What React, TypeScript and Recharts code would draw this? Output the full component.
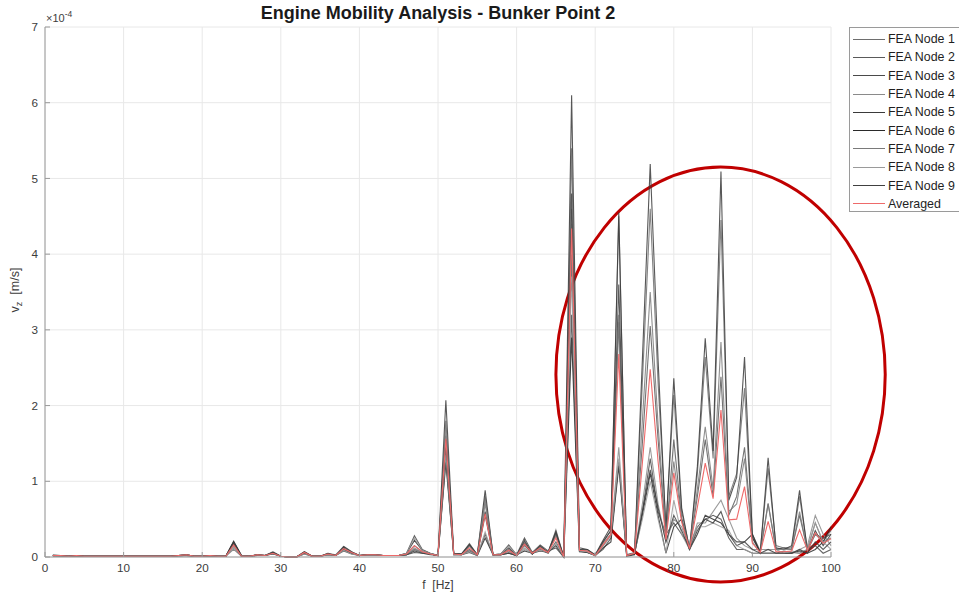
import React from 'react';
import { LineChart, Line, XAxis, YAxis, CartesianGrid, ReferenceArea } from 'recharts';

// Frequency grid (Hz), one sample per hertz
const FREQ_HZ: number[] = Array.from({ length: 100 }, (_, i) => i + 1);

// Vertical mobility v_z per FEA node, in units of 1e-4 m/s
const NODE_1 = [
  0.02, 0.02, 0.01, 0.02, 0.01, 0.01, 0.01, 0.01, 0.01, 0.01,
  0.01, 0.01, 0.01, 0.01, 0.01, 0.01, 0.02, 0.03, 0.01, 0.01,
  0.02, 0.01, 0.01, 0.18, 0.01, 0.01, 0.03, 0.02, 0.06, 0.01,
  0.00, 0.00, 0.06, 0.01, 0.01, 0.04, 0.02, 0.13, 0.06, 0.02,
  0.03, 0.03, 0.02, 0.02, 0.02, 0.03, 0.10, 0.06, 0.04, 0.02,
  1.80, 0.04, 0.03, 0.15, 0.03, 0.80, 0.03, 0.03, 0.08, 0.02,
  0.20, 0.04, 0.12, 0.06, 0.30, 0.00, 5.40, 0.10, 0.08, 0.02,
  0.20, 0.35, 4.50, 0.02, 0.05, 2.30, 4.60, 2.30, 0.40, 2.14,
  0.60, 0.12, 1.10, 2.64, 1.30, 4.45, 0.80, 1.10, 2.23, 0.30,
  0.08, 1.17, 0.15, 0.12, 0.12, 0.80, 0.10, 0.45, 0.20, 0.35,
];
const NODE_2 = [
  0.03, 0.02, 0.01, 0.02, 0.01, 0.01, 0.01, 0.01, 0.01, 0.01,
  0.01, 0.01, 0.01, 0.01, 0.01, 0.01, 0.02, 0.02, 0.01, 0.01,
  0.02, 0.01, 0.01, 0.15, 0.01, 0.01, 0.03, 0.02, 0.05, 0.01,
  0.00, 0.00, 0.05, 0.01, 0.01, 0.04, 0.02, 0.10, 0.05, 0.02,
  0.03, 0.03, 0.02, 0.02, 0.02, 0.04, 0.15, 0.07, 0.04, 0.02,
  1.45, 0.04, 0.04, 0.10, 0.03, 0.55, 0.03, 0.03, 0.10, 0.03,
  0.15, 0.05, 0.10, 0.05, 0.20, 0.00, 4.00, 0.08, 0.07, 0.03,
  0.15, 0.30, 3.10, 0.03, 0.06, 1.50, 3.05, 1.55, 0.25, 1.55,
  0.50, 0.10, 0.80, 1.55, 0.80, 2.38, 0.55, 0.80, 1.45, 0.25,
  0.07, 0.71, 0.10, 0.12, 0.10, 0.55, 0.10, 0.30, 0.25, 0.30,
];
const NODE_3 = [
  0.02, 0.01, 0.01, 0.01, 0.01, 0.01, 0.01, 0.01, 0.01, 0.01,
  0.01, 0.01, 0.01, 0.01, 0.01, 0.01, 0.02, 0.02, 0.01, 0.01,
  0.01, 0.01, 0.01, 0.20, 0.02, 0.01, 0.02, 0.02, 0.05, 0.01,
  0.00, 0.00, 0.04, 0.01, 0.01, 0.03, 0.02, 0.08, 0.04, 0.02,
  0.03, 0.02, 0.02, 0.02, 0.02, 0.05, 0.28, 0.10, 0.05, 0.02,
  1.30, 0.03, 0.03, 0.08, 0.02, 0.30, 0.03, 0.04, 0.16, 0.03,
  0.25, 0.06, 0.16, 0.08, 0.12, 0.00, 3.20, 0.08, 0.06, 0.02,
  0.10, 0.25, 1.25, 0.03, 0.05, 0.60, 1.30, 0.60, 0.30, 0.45,
  0.30, 0.15, 0.40, 0.50, 0.55, 0.50, 0.25, 0.10, 0.10, 0.05,
  0.05, 0.05, 0.05, 0.08, 0.06, 0.05, 0.10, 0.15, 0.05, 0.10,
];
const NODE_4 = [
  0.02, 0.02, 0.01, 0.02, 0.01, 0.01, 0.01, 0.01, 0.01, 0.01,
  0.01, 0.01, 0.01, 0.01, 0.01, 0.01, 0.02, 0.03, 0.01, 0.01,
  0.02, 0.01, 0.01, 0.12, 0.01, 0.01, 0.03, 0.02, 0.07, 0.01,
  0.00, 0.00, 0.07, 0.01, 0.01, 0.05, 0.03, 0.14, 0.07, 0.02,
  0.03, 0.03, 0.02, 0.02, 0.02, 0.03, 0.12, 0.06, 0.04, 0.02,
  1.70, 0.05, 0.04, 0.18, 0.03, 0.70, 0.03, 0.03, 0.06, 0.02,
  0.12, 0.04, 0.12, 0.06, 0.36, 0.00, 4.60, 0.10, 0.08, 0.03,
  0.15, 0.30, 1.45, 0.02, 0.05, 0.70, 1.45, 0.70, 0.20, 0.50,
  0.40, 0.12, 0.45, 0.45, 0.60, 0.75, 0.50, 0.25, 0.15, 0.10,
  0.10, 0.10, 0.10, 0.05, 0.05, 0.10, 0.15, 0.55, 0.30, 0.15,
];
const NODE_5 = [
  0.02, 0.02, 0.01, 0.02, 0.01, 0.01, 0.01, 0.01, 0.01, 0.01,
  0.01, 0.01, 0.01, 0.01, 0.01, 0.01, 0.02, 0.03, 0.01, 0.01,
  0.02, 0.01, 0.01, 0.17, 0.01, 0.01, 0.03, 0.02, 0.06, 0.01,
  0.00, 0.00, 0.06, 0.01, 0.01, 0.04, 0.02, 0.12, 0.06, 0.02,
  0.03, 0.03, 0.02, 0.02, 0.02, 0.03, 0.08, 0.05, 0.04, 0.02,
  2.07, 0.05, 0.04, 0.16, 0.03, 0.88, 0.03, 0.03, 0.05, 0.02,
  0.18, 0.04, 0.14, 0.06, 0.34, 0.00, 6.10, 0.12, 0.10, 0.03,
  0.22, 0.40, 4.55, 0.01, 0.03, 2.60, 5.19, 2.60, 0.35, 2.36,
  0.65, 0.10, 1.20, 2.89, 1.40, 5.09, 0.75, 1.05, 2.64, 0.26,
  0.06, 1.31, 0.12, 0.10, 0.15, 0.88, 0.08, 0.35, 0.15, 0.30,
];
const NODE_6 = [
  0.01, 0.01, 0.01, 0.01, 0.01, 0.01, 0.01, 0.01, 0.01, 0.01,
  0.01, 0.01, 0.01, 0.01, 0.01, 0.01, 0.01, 0.02, 0.01, 0.01,
  0.01, 0.01, 0.01, 0.21, 0.02, 0.01, 0.02, 0.02, 0.04, 0.01,
  0.00, 0.00, 0.05, 0.01, 0.01, 0.03, 0.02, 0.10, 0.05, 0.02,
  0.02, 0.02, 0.02, 0.02, 0.02, 0.05, 0.22, 0.09, 0.05, 0.02,
  1.25, 0.03, 0.03, 0.06, 0.02, 0.25, 0.03, 0.04, 0.12, 0.03,
  0.08, 0.05, 0.08, 0.06, 0.15, 0.00, 2.90, 0.07, 0.06, 0.02,
  0.12, 0.20, 1.20, 0.02, 0.04, 0.55, 1.10, 0.55, 0.05, 0.40,
  0.50, 0.10, 0.30, 0.55, 0.50, 0.45, 0.30, 0.15, 0.20, 0.30,
  0.05, 0.05, 0.05, 0.05, 0.05, 0.08, 0.05, 0.10, 0.20, 0.40,
];
const NODE_7 = [
  0.02, 0.02, 0.01, 0.02, 0.01, 0.01, 0.01, 0.01, 0.01, 0.01,
  0.01, 0.01, 0.01, 0.01, 0.01, 0.01, 0.02, 0.03, 0.01, 0.01,
  0.02, 0.01, 0.01, 0.10, 0.01, 0.01, 0.03, 0.02, 0.05, 0.01,
  0.00, 0.00, 0.06, 0.01, 0.01, 0.04, 0.02, 0.13, 0.06, 0.02,
  0.03, 0.03, 0.02, 0.02, 0.02, 0.03, 0.10, 0.06, 0.04, 0.02,
  1.60, 0.04, 0.03, 0.14, 0.03, 0.75, 0.03, 0.03, 0.06, 0.02,
  0.20, 0.04, 0.13, 0.06, 0.28, 0.00, 4.40, 0.09, 0.07, 0.02,
  0.18, 0.30, 3.20, 0.02, 0.05, 1.80, 3.50, 1.75, 0.30, 1.26,
  0.50, 0.12, 0.90, 1.72, 0.90, 2.84, 0.60, 0.70, 1.30, 0.20,
  0.05, 0.70, 0.10, 0.10, 0.10, 0.60, 0.08, 0.30, 0.20, 0.25,
];
const NODE_8 = [
  0.01, 0.01, 0.01, 0.01, 0.01, 0.01, 0.01, 0.01, 0.01, 0.01,
  0.01, 0.01, 0.01, 0.01, 0.01, 0.01, 0.01, 0.02, 0.01, 0.01,
  0.01, 0.01, 0.01, 0.14, 0.02, 0.01, 0.02, 0.02, 0.05, 0.01,
  0.00, 0.00, 0.04, 0.01, 0.01, 0.03, 0.02, 0.09, 0.04, 0.02,
  0.02, 0.02, 0.02, 0.02, 0.02, 0.05, 0.25, 0.09, 0.05, 0.02,
  1.35, 0.03, 0.03, 0.07, 0.02, 0.33, 0.03, 0.04, 0.14, 0.03,
  0.10, 0.05, 0.09, 0.06, 0.18, 0.00, 3.70, 0.08, 0.07, 0.02,
  0.14, 0.28, 1.30, 0.02, 0.05, 0.50, 1.00, 0.50, 0.05, 0.75,
  0.30, 0.10, 0.40, 0.40, 0.45, 0.40, 0.35, 0.15, 0.10, 0.05,
  0.05, 0.05, 0.05, 0.05, 0.08, 0.05, 0.10, 0.45, 0.20, 0.10,
];
const NODE_9 = [
  0.02, 0.02, 0.01, 0.02, 0.01, 0.01, 0.01, 0.01, 0.01, 0.01,
  0.01, 0.01, 0.01, 0.01, 0.01, 0.01, 0.02, 0.03, 0.01, 0.01,
  0.02, 0.01, 0.01, 0.19, 0.01, 0.01, 0.03, 0.02, 0.06, 0.01,
  0.00, 0.00, 0.07, 0.01, 0.01, 0.05, 0.02, 0.14, 0.07, 0.02,
  0.03, 0.03, 0.02, 0.02, 0.02, 0.03, 0.06, 0.05, 0.03, 0.02,
  1.55, 0.05, 0.04, 0.17, 0.03, 0.60, 0.03, 0.03, 0.05, 0.02,
  0.22, 0.04, 0.15, 0.06, 0.32, 0.00, 4.80, 0.10, 0.10, 0.02,
  0.20, 0.35, 3.60, 0.02, 0.04, 0.60, 1.15, 0.65, 0.20, 0.55,
  0.35, 0.10, 0.35, 0.50, 0.45, 0.60, 0.30, 0.20, 0.20, 0.10,
  0.05, 0.10, 0.05, 0.05, 0.05, 0.10, 0.05, 0.20, 0.10, 0.20,
];
const AVERAGED = [
  0.02, 0.02, 0.01, 0.02, 0.01, 0.01, 0.01, 0.01, 0.01, 0.01,
  0.01, 0.01, 0.01, 0.01, 0.01, 0.01, 0.02, 0.03, 0.01, 0.01,
  0.02, 0.01, 0.01, 0.16, 0.01, 0.01, 0.03, 0.02, 0.05, 0.01,
  0.00, 0.00, 0.06, 0.01, 0.01, 0.04, 0.02, 0.11, 0.06, 0.02,
  0.03, 0.03, 0.02, 0.02, 0.02, 0.04, 0.15, 0.07, 0.04, 0.02,
  1.56, 0.04, 0.03, 0.12, 0.03, 0.57, 0.03, 0.03, 0.09, 0.02,
  0.17, 0.05, 0.12, 0.06, 0.25, 0.00, 4.34, 0.09, 0.08, 0.02,
  0.16, 0.30, 2.68, 0.02, 0.05, 1.24, 2.48, 1.26, 0.23, 1.11,
  0.46, 0.11, 0.66, 1.24, 0.77, 1.94, 0.49, 0.50, 0.93, 0.18,
  0.06, 0.47, 0.07, 0.07, 0.08, 0.36, 0.09, 0.32, 0.18, 0.24,
];

const CHART_TITLE = 'Engine Mobility Analysis - Bunker Point 2';
const NODE_NAMES = [
  'FEA Node 1', 'FEA Node 2', 'FEA Node 3', 'FEA Node 4', 'FEA Node 5',
  'FEA Node 6', 'FEA Node 7', 'FEA Node 8', 'FEA Node 9',
];
const NODE_VALUES = [NODE_1, NODE_2, NODE_3, NODE_4, NODE_5, NODE_6, NODE_7, NODE_8, NODE_9];
const NODE_COLORS = [
  '#6e6e6e', '#5a5a5a', '#4a4a4a', '#8a8a8a', '#3a3a3a',
  '#2a2a2a', '#7a7a7a', '#9a9a9a', '#404040',
];
const AVERAGED_NAME = 'Averaged';
const AVERAGED_COLOR = '#ee6a6a';

const X_TICKS = [0, 10, 20, 30, 40, 50, 60, 70, 80, 90, 100];
const Y_TICKS = [0, 1, 2, 3, 4, 5, 6, 7];

// Highlighted resonance band (Hz and 1e-4 m/s bounds of the ring)
const HIGHLIGHT = { f1: 65.0, f2: 106.9, v1: -0.33, v2: 5.15 };

const FONT = '"Liberation Sans", Arial, Helvetica, sans-serif';
const AXIS_COLOR = '#9a9a9a';
const TEXT_COLOR = '#3c3c3c';

const SERIES = NODE_NAMES.map((name, i) => ({
  key: `node${i + 1}`,
  name,
  values: NODE_VALUES[i],
  color: NODE_COLORS[i],
}));

const data = FREQ_HZ.map((f, i) => {
  const row: Record<string, number> = { f };
  SERIES.forEach((s) => {
    row[s.key] = s.values[i];
  });
  row.avg = AVERAGED[i];
  return row;
});

const LEGEND_ITEMS = [
  ...SERIES.map((s) => ({ name: s.name, color: s.color })),
  { name: AVERAGED_NAME, color: AVERAGED_COLOR },
];

const XTitleLabel = (props: any) => {
  const vb = props.viewBox || {};
  return (
    <text
      x={vb.x + vb.width / 2}
      y={589}
      textAnchor="middle"
      fontFamily={FONT}
      fontSize={12}
      fill={TEXT_COLOR}
      style={{ whiteSpace: 'pre' }}
    >
      {'f  [Hz]'}
    </text>
  );
};

const YTitleLabel = (props: any) => {
  const vb = props.viewBox || {};
  const cx = 19;
  const cy = vb.y + vb.height / 2 - 2;
  return (
    <g>
      <text
        x={cx}
        y={cy}
        transform={`rotate(-90, ${cx}, ${cy})`}
        textAnchor="middle"
        fontFamily={FONT}
        fontSize={12.5}
        fill={TEXT_COLOR}
        style={{ whiteSpace: 'pre' }}
      >
        <tspan>v</tspan>
        <tspan fontSize={9} dy={3}>z</tspan>
        <tspan dy={-3}>{'  [m/s]'}</tspan>
      </text>
      <text
        x={vb.x + vb.width + 1}
        y={vb.y - 5}
        fontFamily={FONT}
        fontSize={11}
        fill={TEXT_COLOR}
      >
        <tspan>×10</tspan>
        <tspan fontSize={8.5} dy={-5}>-4</tspan>
      </text>
    </g>
  );
};

const HighlightRing = (props: any) => {
  const { x, y, width, height } = props;
  if ([x, y, width, height].some((v) => typeof v !== 'number' || Number.isNaN(v))) return null;
  return (
    <ellipse
      cx={x + width / 2}
      cy={y + height / 2}
      rx={Math.abs(width) / 2}
      ry={Math.abs(height) / 2}
      fill="none"
      stroke="#c00000"
      strokeWidth={3}
    />
  );
};

const tickStyle = { fill: TEXT_COLOR, fontSize: 11.7, fontFamily: FONT };

export default function App() {
  return (
    <div
      style={{
        position: 'absolute',
        left: 0,
        top: 0,
        width: 959,
        height: 594,
        overflow: 'hidden',
        background: '#ffffff',
      }}
    >
      <LineChart
        width={959}
        height={594}
        data={data}
        margin={{ top: 27, right: 128, bottom: 0, left: 0 }}
      >
        <CartesianGrid stroke="#e8e8e8" strokeWidth={1} />
        <XAxis
          dataKey="f"
          type="number"
          domain={[0, 100]}
          ticks={X_TICKS}
          height={37}
          tickSize={-5}
          tickMargin={12}
          stroke={AXIS_COLOR}
          tick={tickStyle}
          label={{ content: XTitleLabel }}
        />
        <XAxis
          xAxisId="top"
          orientation="top"
          type="number"
          domain={[0, 100]}
          ticks={X_TICKS}
          height={0}
          tickSize={-5}
          tickFormatter={() => ''}
          stroke={AXIS_COLOR}
        />
        <YAxis
          type="number"
          domain={[0, 7]}
          ticks={Y_TICKS}
          width={45}
          tickSize={-5}
          tickMargin={12}
          stroke={AXIS_COLOR}
          tick={tickStyle}
          label={{ content: YTitleLabel }}
        />
        <YAxis
          yAxisId="right"
          orientation="right"
          type="number"
          domain={[0, 7]}
          ticks={Y_TICKS}
          width={0}
          tickSize={-5}
          tickFormatter={() => ''}
          stroke={AXIS_COLOR}
        />
        {SERIES.map((s) => (
          <Line
            key={s.key}
            dataKey={s.key}
            name={s.name}
            type="linear"
            stroke={s.color}
            strokeOpacity={0.85}
            strokeWidth={1.1}
            dot={false}
            activeDot={false}
            isAnimationActive={false}
          />
        ))}
        <Line
          dataKey="avg"
          name={AVERAGED_NAME}
          type="linear"
          stroke={AVERAGED_COLOR}
          strokeWidth={1.1}
          dot={false}
          activeDot={false}
          isAnimationActive={false}
        />
        <ReferenceArea
          x1={HIGHLIGHT.f1}
          x2={HIGHLIGHT.f2}
          y1={HIGHLIGHT.v1}
          y2={HIGHLIGHT.v2}
          ifOverflow="visible"
          shape={HighlightRing}
        />
      </LineChart>
      <div
        style={{
          position: 'absolute',
          left: 45,
          width: 786,
          top: 3,
          textAlign: 'center',
          fontFamily: FONT,
          fontSize: 18,
          fontWeight: 'bold',
          color: '#1a1a1a',
          lineHeight: '21px',
        }}
      >
        {CHART_TITLE}
      </div>
      <div
        style={{
          position: 'absolute',
          left: 849,
          top: 27,
          width: 140,
          height: 185,
          border: `1px solid ${AXIS_COLOR}`,
          background: '#ffffff',
          boxSizing: 'border-box',
          fontFamily: FONT,
          fontSize: 12.4,
          color: '#1e1e1e',
          paddingTop: 2,
        }}
      >
        {LEGEND_ITEMS.map((item) => (
          <div
            key={item.name}
            style={{ display: 'flex', alignItems: 'center', height: 18.3, whiteSpace: 'nowrap' }}
          >
            <span
              style={{
                display: 'inline-block',
                marginLeft: 3,
                width: 32,
                height: 0,
                borderTop: `1px solid ${item.color}`,
                marginRight: 3,
              }}
            />
            <span>{item.name}</span>
          </div>
        ))}
      </div>
    </div>
  );
}
